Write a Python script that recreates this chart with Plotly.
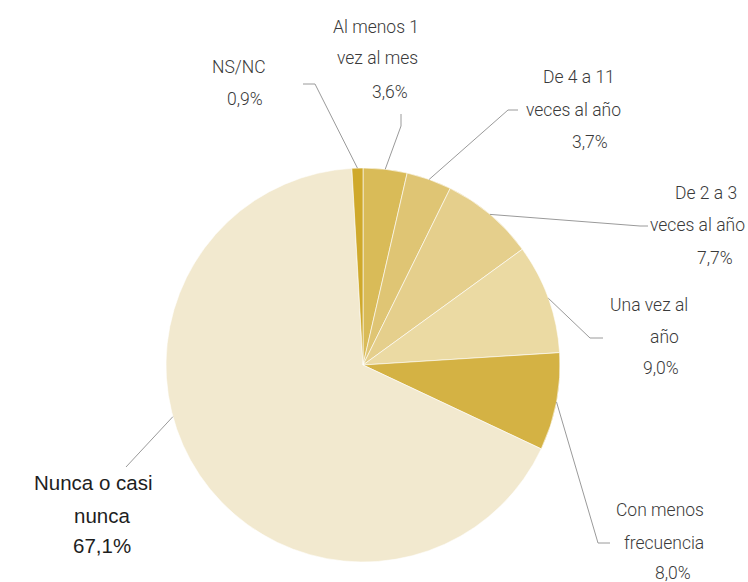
import math
import plotly.graph_objects as go

# ---- data ----
categories = ["Al menos 1 vez al mes", "De 4 a 11 veces al año", "De 2 a 3 veces al año",
              "Una vez al año", "Con menos frecuencia", "Nunca o casi nunca", "NS/NC"]
values = [3.6, 3.7, 7.7, 9.0, 8.0, 67.1, 0.9]
label_lines = [["Al menos 1", "vez al mes"], ["De 4 a 11", "veces al año"], ["De 2 a 3", "veces al año"],
               ["Una vez al", "año"], ["Con menos", "frecuencia"], ["Nunca o casi", "nunca"], ["NS/NC"]]
colors = ["#d9bb58", "#dfc574", "#e5cf8c", "#ebdaa3", "#d4b244", "#f2e9cf", "#cfa92c"]

W, H = 748, 582
CX, CY, R = 363, 365, 197

def px(x, y):
    return x / W, 1 - y / H

fig = go.Figure(go.Pie(
    labels=categories, values=values, sort=False, direction="clockwise", rotation=0,
    marker=dict(colors=colors, line=dict(color="white", width=0.6)),
    textinfo="none", hoverinfo="label+percent", showlegend=False,
    domain=dict(x=[(CX - R) / W, (CX + R) / W], y=[1 - (CY + R) / H, 1 - (CY - R) / H]),
))

# label layout (pixel positions of each text line centre, and leader elbows)
line_pos = [
    [(376, 27), (377, 58), (390, 92)],
    [(579, 77), (573, 110), (590, 142)],
    [(706, 193), (697, 225), (715, 258)],
    [(649, 305), (664, 337), (661, 368)],
    [(660, 510), (664, 543), (673, 573)],
    [(93, 482), (102, 515), (102, 545)],
    [(239, 67), (245, 99)],
]
leaders = [
    [(401, 126), (401, 114)],
    [(508, 110), (518, 110)],
    [(640, 226), (648, 226)],
    [(590, 338), (603, 338)],
    [(598, 543), (610, 543)],
    [(126, 467)],
    [(315, 84), (303, 84)],
]
edge_angle_override = {5: 254.8}

total = sum(values)
cum = 0
annotations = []
shapes = []
for i, v in enumerate(values):
    mid = (cum + v / 2) / total * 360
    cum += v
    ang = edge_angle_override.get(i, mid)
    ex = CX + R * math.sin(math.radians(ang))
    ey = CY - R * math.cos(math.radians(ang))
    pts = [(ex, ey)] + leaders[i]
    for (x0, y0), (x1, y1) in zip(pts[:-1], pts[1:]):
        a0, b0 = px(x0, y0)
        a1, b1 = px(x1, y1)
        shapes.append(dict(type="line", xref="paper", yref="paper", x0=a0, y0=b0, x1=a1, y1=b1,
                           line=dict(color="#9a9a9a", width=1)))
    texts = label_lines[i] + [f"{v:.1f}%".replace(".", ",")]
    is_main = categories[i].startswith("Nunca")
    for t, (x, y) in zip(texts, line_pos[i]):
        ax, ay = px(x, y)
        annotations.append(dict(
            text=t, x=ax, y=ay, xref="paper", yref="paper", xanchor="center", yanchor="middle",
            showarrow=False,
            font=dict(family="Liberation Sans, Arial" if is_main else "Roboto",
                      size=20.5 if is_main else 17.5,
                      weight=400 if is_main else 300,
                      color="#1e1e1e" if is_main else "#3a3a3a"),
        ))

fig.update_layout(
    width=W, height=H, margin=dict(l=0, r=0, t=0, b=0),
    paper_bgcolor="white", plot_bgcolor="white",
    annotations=annotations, shapes=shapes,
)
fig.write_html("out.html", config={"displayModeBar": False},
               post_script="document.body.style.margin='0';document.body.style.overflow='hidden';")
